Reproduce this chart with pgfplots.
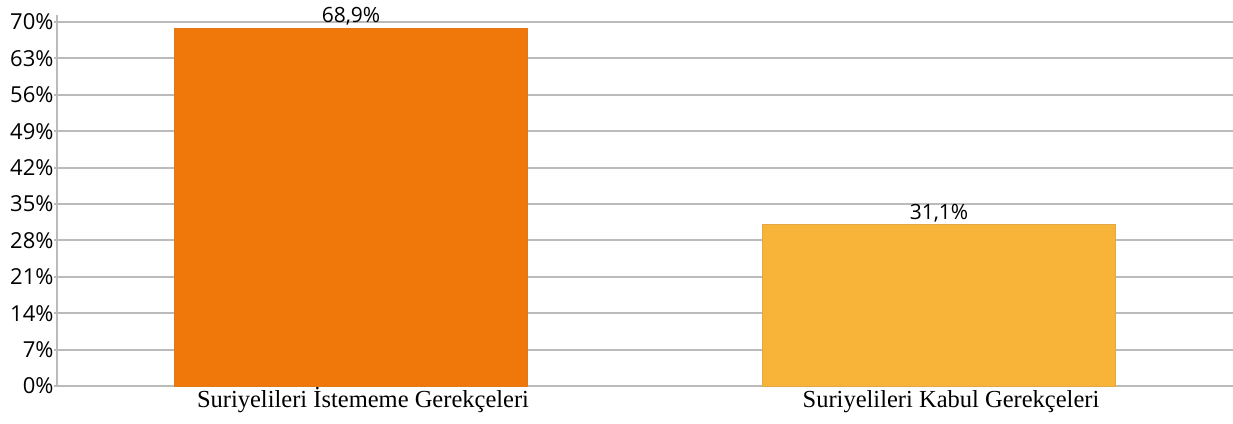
\documentclass[border=0pt]{standalone}
\usepackage{pgfplots}
\pgfplotsset{compat=1.18}
\usepackage{fontspec}
\setmainfont{Open Sans}
\newfontfamily\serifx{Liberation Serif}
\definecolor{barA}{HTML}{F0780A}
\definecolor{barB}{HTML}{F8B438}
\definecolor{gridc}{HTML}{BBBBBB}
\begin{document}
\begin{tikzpicture}
\begin{axis}[
  name=ax,
  scale only axis,
  width=1176pt, height=371pt,
  xmin=-0.5, xmax=1.5,
  ymin=0, ymax=71.35,
  axis x line*=bottom,
  axis y line*=left,
  axis line style={draw=gridc, line width=2pt},
  xtick={0,1},
  xticklabels={Suriyelileri İstememe Gerekçeleri, Suriyelileri Kabul Gerekçeleri},
  x tick label style={font=\serifx\fontsize{24.5}{28}\selectfont, text height=17pt, text depth=5pt, yshift=2pt, xshift=12pt},
  major x tick style={draw=none},
  ytick={0,7,14,21,28,35,42,49,56,63,70},
  yticklabels={0\%,7\%,14\%,21\%,28\%,35\%,42\%,49\%,56\%,63\%,70\%},
  y tick label style={font=\fontsize{22}{26}\selectfont, xshift=3pt},
  major y tick style={draw=gridc, line width=2pt},
  tick align=outside,
  major tick length=3pt,
  ymajorgrids,
  grid style={draw=gridc, line width=2pt},
  clip=false,
  nodes near coords,
  point meta=explicit symbolic,
  every node near coord/.append style={font=\fontsize{21}{25}\selectfont, text=black, yshift=-1pt},
]
\addplot[ybar, bar width=0.6, bar shift=0pt, fill=barA, draw=barA!85!gray] coordinates {(0,68.9) [68,9\%]};
\addplot[ybar, bar width=0.6, bar shift=0pt, fill=barB, draw=barB!80!gray] coordinates {(1,31.1) [31,1\%]};
\end{axis}
\pgfresetboundingbox
\path (ax.south west) ++(-57pt,-37pt) rectangle ++(1233pt,423pt);
\end{tikzpicture}
\end{document}
